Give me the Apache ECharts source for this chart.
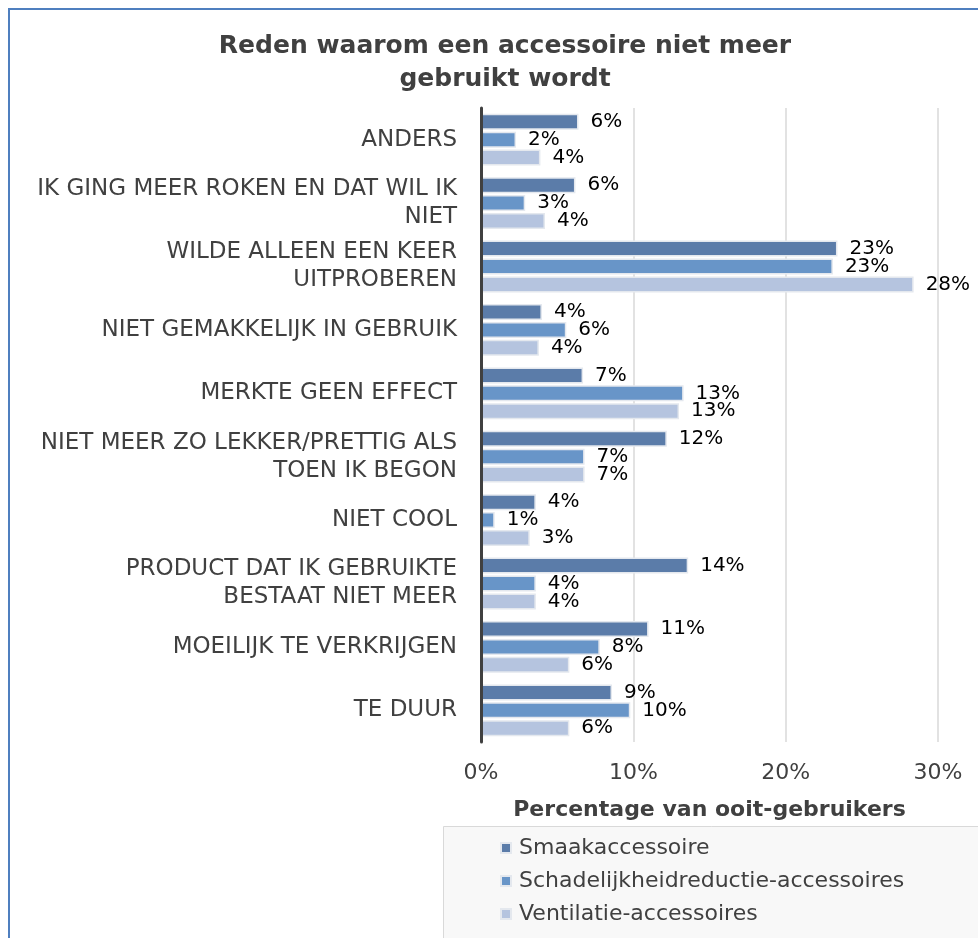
<!DOCTYPE html>
<html>
<head>
<meta charset="utf-8">
<script src="https://cdn.jsdelivr.net/npm/echarts@6/dist/echarts.min.js"></script>
<style>
  html, body { margin: 0; padding: 0; background: #fff; }
  #frame {
    position: absolute; left: 8px; top: 8px; width: 1000px; height: 1000px;
    border-left: 2px solid #4f7fbf; border-top: 2px solid #4f7fbf;
  }
  #chart { position: absolute; left: 0; top: 0; width: 978px; height: 938px; }
</style>
</head>
<body>
<div id="frame"></div>
<div id="chart"></div>
<script>
// categories, top to bottom
const categories = [
  'ANDERS',
  'IK GING MEER ROKEN EN DAT WIL IK\nNIET',
  'WILDE ALLEEN EEN KEER\nUITPROBEREN',
  'NIET GEMAKKELIJK IN GEBRUIK',
  'MERKTE GEEN EFFECT',
  'NIET MEER ZO LEKKER/PRETTIG ALS\nTOEN IK BEGON',
  'NIET COOL',
  'PRODUCT DAT IK GEBRUIKTE\nBESTAAT NIET MEER',
  'MOEILIJK TE VERKRIJGEN',
  'TE DUUR'
]

const seriesNames = ['Smaakaccessoire', 'Schadelijkheidreductie-accessoires', 'Ventilatie-accessoires']

// percentages
const smaak = [6.4, 6.2, 23.4, 4.0, 6.7, 12.2, 3.6, 13.6, 11.0, 8.6]
const schade = [2.3, 2.9, 23.1, 5.6, 13.3, 6.8, 0.9, 3.6, 7.8, 9.8]
const ventilatie = [3.9, 4.2, 28.4, 3.8, 13.0, 6.8, 3.2, 3.6, 5.8, 5.8]

const xTicks = [0, 10, 20, 30]

const colors = ['#5b7ca9', '#6895c8', '#b5c4df']
const font = 'DejaVu Sans'

const chart = echarts.init(document.getElementById('chart'))

const makeSeries = (name, data, color) => ({
  name,
  type: 'bar',
  data,
  barWidth: 16,
  barGap: '12%',
  itemStyle: {
    color,
    borderColor: '#e4e8ee',
    borderWidth: 1.5
  },
  label: {
    show: true,
    position: 'right',
    distance: 12,
    color: '#000',
    fontFamily: font,
    fontSize: 20,
    formatter: p => Math.round(p.value) + '%'
  }
})

chart.setOption({
  animation: false,
  textStyle: { fontFamily: font },
  title: {
    text: 'Reden waarom een accessoire niet meer\ngebruikt wordt',
    left: 500,
    top: 25,
    textAlign: 'center',
    textStyle: {
      fontFamily: font,
      fontSize: 25,
      fontWeight: 'bold',
      color: '#404040',
      lineHeight: 33
    }
  },
  // legend box, runs off the bottom/right edge like the original
  graphic: [{
    type: 'rect',
    left: 443,
    top: 826,
    shape: { width: 560, height: 140 },
    style: { fill: '#f8f8f8', stroke: '#d9d9d9', lineWidth: 1 },
    z: 0
  }],
  legend: {
    data: seriesNames,
    orient: 'vertical',
    left: 443,
    top: 828,
    padding: [9, 10, 0, 57],
    itemGap: 11,
    itemWidth: 10,
    itemHeight: 10,
    icon: 'rect',
    textStyle: { fontFamily: font, fontSize: 22, color: '#404040', padding: [0, 0, 0, 3] }
  },
  grid: {
    left: 481,
    right: 40,
    top: 108,
    bottom: 196
  },
  xAxis: {
    type: 'value',
    min: xTicks[0],
    max: xTicks[xTicks.length - 1],
    interval: 10,
    name: 'Percentage van ooit-gebruikers',
    nameLocation: 'middle',
    nameGap: 57,
    nameTextStyle: { fontFamily: font, fontSize: 22, fontWeight: 'bold', color: '#404040' },
    axisLine: { show: false },
    axisTick: { show: false },
    axisLabel: {
      margin: 20,
      fontFamily: font,
      fontSize: 22,
      color: '#404040',
      formatter: v => v + '%'
    },
    splitLine: { lineStyle: { color: '#d9d9d9', width: 1.5 } }
  },
  yAxis: {
    type: 'category',
    data: categories,
    inverse: true,
    z: 5,
    axisLine: { show: true, lineStyle: { color: '#404040', width: 3 } },
    axisTick: { show: false },
    axisLabel: {
      margin: 24,
      fontFamily: font,
      fontSize: 23,
      lineHeight: 28,
      color: '#404040'
    }
  },
  series: [
    makeSeries(seriesNames[0], smaak, colors[0]),
    makeSeries(seriesNames[1], schade, colors[1]),
    makeSeries(seriesNames[2], ventilatie, colors[2])
  ]
})

window.addEventListener('resize', () => chart.resize())
</script>
</body>
</html>
